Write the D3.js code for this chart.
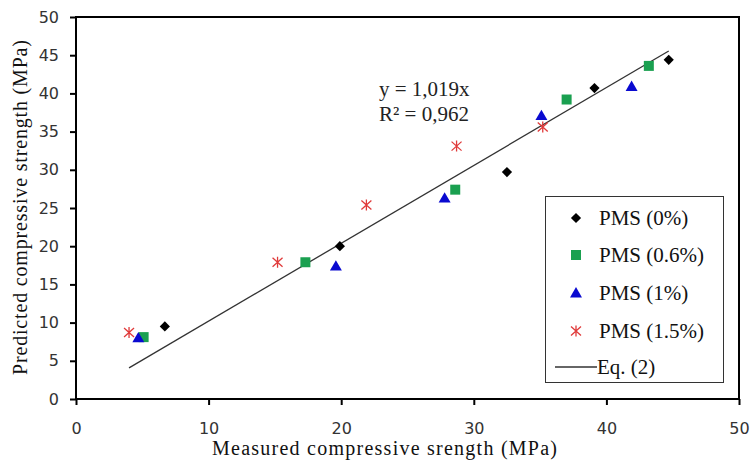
<!DOCTYPE html>
<html>
<head>
<meta charset="utf-8">
<script src="https://cdn.jsdelivr.net/npm/d3@7"></script>
<style>
  html, body { margin: 0; padding: 0; background: #fff; }
  svg { display: block; }
</style>
</head>
<body>
<svg id="chart" width="753" height="464"></svg>
<script>
// Measured vs predicted compressive strength (MPa) for each PMS content
const pms0x   = [6.7, 19.9, 32.5, 39.1, 44.7];
const pms0y   = [9.5, 20.0, 29.7, 40.7, 44.4];
const pms06x  = [5.1, 17.3, 28.6, 37.0, 43.2];
const pms06y  = [8.1, 17.9, 27.4, 39.2, 43.6];
const pms1x   = [4.7, 19.6, 27.8, 35.1, 41.9];
const pms1y   = [8.0, 17.4, 26.3, 37.1, 40.9];
const pms15x  = [4.0, 15.2, 21.9, 28.7, 35.2];
const pms15y  = [8.7, 17.9, 25.4, 33.1, 35.6];

// Eq. (2): y = 1.019x, drawn over the measured range
const fitSlope = 1.019;
const fitRange = [4.0, 44.7];

const xTicks = [0, 10, 20, 30, 40, 50];
const yTicks = [0, 5, 10, 15, 20, 25, 30, 35, 40, 45, 50];
const legendLabels = ["PMS (0%)", "PMS (0.6%)", "PMS (1%)", "PMS (1.5%)", "Eq. (2)"];

const svg = d3.select("#chart");
const plot = { left: 76, right: 739, top: 17, bottom: 399 };

const x = d3.scaleLinear().domain([0, 50]).range([plot.left, plot.right]);
const y = d3.scaleLinear().domain([0, 50]).range([plot.bottom, plot.top]);

const serif = "'Liberation Serif', 'Times New Roman', serif";
const sans = "'DejaVu Sans', Verdana, sans-serif";

// axes
const xAxis = svg.append("g")
  .attr("transform", `translate(0,${plot.bottom})`)
  .call(d3.axisBottom(x).tickValues(xTicks).tickSize(6).tickPadding(18).tickFormat(d3.format("d")));
const yAxis = svg.append("g")
  .attr("transform", `translate(${plot.left},0)`)
  .call(d3.axisLeft(y).tickValues(yTicks).tickSize(6).tickPadding(11).tickFormat(d3.format("d")));

[xAxis, yAxis].forEach(g => {
  g.select(".domain").remove();
  g.selectAll(".tick line").attr("stroke", "#000").attr("stroke-width", 2);
  g.selectAll(".tick text")
    .attr("font-family", sans).attr("font-size", 16).attr("fill", "#333");
});

// frame
svg.append("rect")
  .attr("x", plot.left).attr("y", plot.top)
  .attr("width", plot.right - plot.left).attr("height", plot.bottom - plot.top)
  .attr("fill", "none").attr("stroke", "#000").attr("stroke-width", 2);

// axis titles
svg.append("text")
  .attr("x", 212).attr("y", 455)
  .attr("textLength", 345).attr("lengthAdjust", "spacing")
  .attr("font-family", serif).attr("font-size", 20).attr("fill", "#111")
  .text("Measured compressive srength (MPa)");

svg.append("text")
  .attr("transform", "translate(27,375) rotate(-90)")
  .attr("textLength", 335).attr("lengthAdjust", "spacing")
  .attr("font-family", serif).attr("font-size", 20).attr("fill", "#111")
  .text("Predicted compressive strength (MPa)");

// regression line
svg.append("line")
  .attr("x1", x(fitRange[0])).attr("y1", y(fitSlope * fitRange[0]))
  .attr("x2", x(fitRange[1])).attr("y2", y(fitSlope * fitRange[1]))
  .attr("stroke", "#333").attr("stroke-width", 1.3);

// equation annotation
const eq = svg.append("text")
  .attr("font-family", serif).attr("font-size", 21).attr("fill", "#222");
eq.append("tspan").attr("x", 379).attr("y", 96).text("y = 1,019x");
eq.append("tspan").attr("x", 379).attr("y", 121).text("R² = 0,962");

// marker drawing helpers
const markers = {
  diamond: g => g.append("path")
    .attr("d", d3.symbol(d3.symbolSquare, 52)())
    .attr("transform", "rotate(45)")
    .attr("fill", "#000"),
  square: g => g.append("path")
    .attr("d", d3.symbol(d3.symbolSquare, 100)())
    .attr("fill", "#1aa050"),
  triangle: g => g.append("path")
    .attr("d", d3.symbol(d3.symbolTriangle, 62)())
    .attr("transform", "translate(0,1)")
    .attr("fill", "#0a0ad0"),
  asterisk: g => g.append("path")
    .attr("d", "M0,-5.5V5.5M-5,-4.5L5,4.5M-5,4.5L5,-4.5")
    .attr("stroke", "#e03a3a").attr("stroke-width", 1.3).attr("fill", "none")
};

const series = [
  { xs: pms0x,  ys: pms0y,  mark: "diamond" },
  { xs: pms06x, ys: pms06y, mark: "square" },
  { xs: pms1x,  ys: pms1y,  mark: "triangle" },
  { xs: pms15x, ys: pms15y, mark: "asterisk" }
];

series.forEach(s => {
  s.xs.forEach((xv, i) => {
    const g = svg.append("g").attr("transform", `translate(${x(xv)},${y(s.ys[i])})`);
    markers[s.mark](g);
  });
});

// legend
const legend = svg.append("g");
legend.append("rect")
  .attr("x", 545.5).attr("y", 196.5).attr("width", 178).attr("height", 186)
  .attr("fill", "#fff").attr("stroke", "#333").attr("stroke-width", 1);

const rowY = [218, 255, 293, 331, 367];
legendLabels.forEach((lab, i) => {
  if (i < 4) {
    const g = legend.append("g").attr("transform", `translate(576,${rowY[i]})`);
    markers[series[i].mark](g);
  } else {
    legend.append("line")
      .attr("x1", 555).attr("x2", 597).attr("y1", rowY[i]).attr("y2", rowY[i])
      .attr("stroke", "#333").attr("stroke-width", 1.3);
  }
  legend.append("text")
    .attr("x", i < 4 ? 599 : 597).attr("y", rowY[i] + 7)
    .attr("font-family", serif).attr("font-size", 21).attr("fill", "#111")
    .text(lab);
});
</script>
</body>
</html>
